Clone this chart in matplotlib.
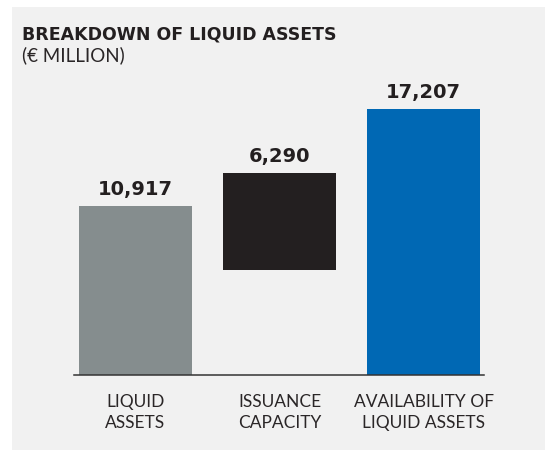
import matplotlib
matplotlib.use("Agg")
import matplotlib.pyplot as plt
from matplotlib.patches import Rectangle

# data
categories = ["LIQUID\nASSETS", "ISSUANCE\nCAPACITY", "AVAILABILITY OF\nLIQUID ASSETS"]
values = [10917, 6290, 17207]
bottoms = [0, 6800, 0]   # issuance bar floats as drawn in the source
labels = ["10,917", "6,290", "17,207"]
colors = ["#858d8e", "#231f20", "#0068b4"]

plt.rcParams["font.family"] = ["Lato", "DejaVu Sans"]

fig = plt.figure(figsize=(5.45, 4.5), dpi=100)
fig.patch.set_facecolor("white")
fig.patches.append(Rectangle((12 / 545, 0), 1, 1 - 7 / 450, transform=fig.transFigure,
                             facecolor="#f1f1f1", edgecolor="none", zorder=-5))

ax = fig.add_axes([74 / 545, 75 / 450, 410 / 545, 315 / 450])
ax.set_facecolor("none")
ax.set_zorder(2)

x = range(len(values))
bars = ax.bar(x, values, bottom=bottoms, width=0.785, color=colors, zorder=2)
for b, lab in zip(bars, labels):
    ax.annotate(lab, (b.get_x() + b.get_width() / 2, b.get_y() + b.get_height()),
                xytext=(0, 5), textcoords="offset points", ha="center", va="bottom",
                fontsize=14, fontweight="bold", family="DejaVu Sans", color="#231f20")

ax.set_xlim(-0.427, 2.42)
ax.set_ylim(0, 17207 * 315 / 266)
ax.set_yticks([])
ax.set_xticks(list(x))
ax.set_xticklabels(categories, fontsize=12.5, color="#2a2627", linespacing=1.35)
ax.tick_params(axis="x", length=0, pad=14)
for s in ["top", "right", "left"]:
    ax.spines[s].set_visible(False)
ax.spines["bottom"].set_color("#333333")
ax.spines["bottom"].set_linewidth(1.1)
ax.spines["bottom"].set_zorder(3)

fig.text(22 / 545, 1 - 39 / 450, "BREAKDOWN OF LIQUID ASSETS", fontsize=12.5,
         fontweight="bold", family="DejaVu Sans", color="#231f20", va="baseline")
fig.text(22 / 545, 1 - 61 / 450, "(€ MILLION)", fontsize=13.5,
         color="#2a2627", va="baseline")

fig.savefig("out.png", dpi=100, facecolor=fig.get_facecolor())
